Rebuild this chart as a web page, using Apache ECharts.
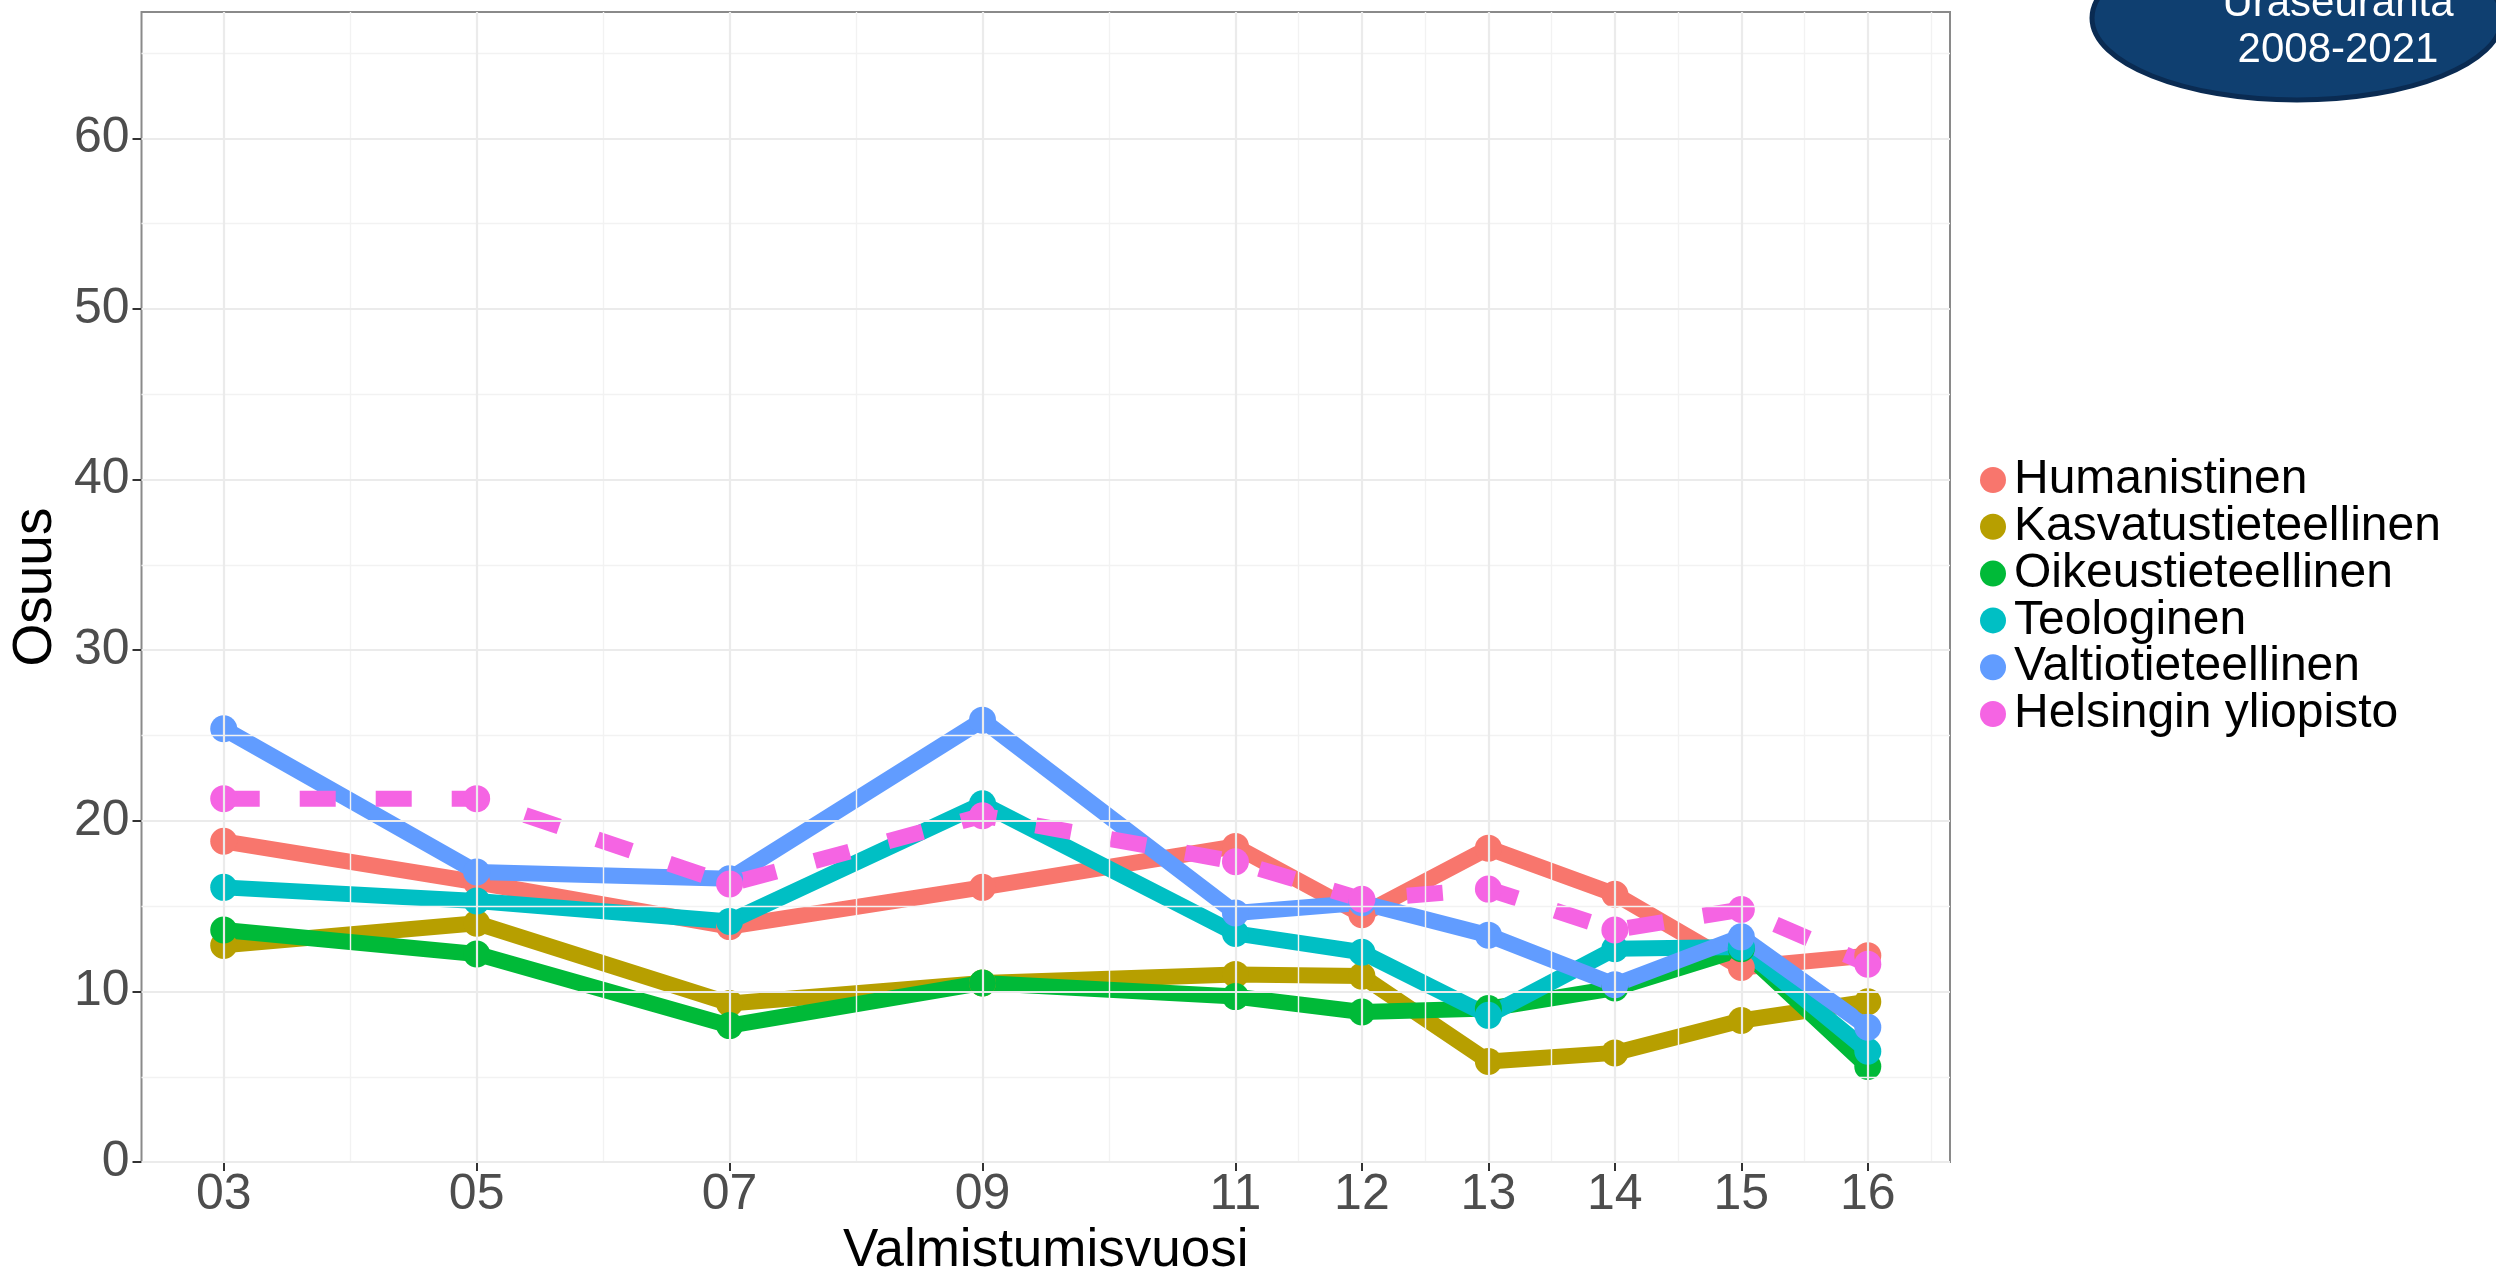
<!DOCTYPE html>
<html>
<head>
<meta charset="utf-8">
<script src="https://cdn.jsdelivr.net/npm/echarts@6/dist/echarts.min.js"></script>
<style>
html,body{margin:0;padding:0;background:#ffffff;}
#c{width:2496px;height:1283px;}
</style>
</head>
<body>
<div id="c"></div>
<script>
// ---- data ----
const years = [3, 5, 7, 9, 11, 12, 13, 14, 15, 16];
const yearLabels = ['03', '05', '07', '09', '11', '12', '13', '14', '15', '16'];
const seriesNames = ['Humanistinen', 'Kasvatustieteellinen', 'Oikeustieteellinen', 'Teologinen', 'Valtiotieteellinen', 'Helsingin yliopisto'];
const humanistinen = [18.8, 16.4, 13.8, 16.1, 18.5, 14.5, 18.4, 15.7, 11.4, 12.1];
const kasvatustieteellinen = [12.7, 14.0, 9.3, 10.5, 11.0, 10.9, 5.9, 6.4, 8.3, 9.4];
const oikeustieteellinen = [13.6, 12.2, 8.0, 10.5, 9.7, 8.8, 9.0, 10.2, 12.5, 5.6];
const teologinen = [16.1, 15.3, 14.1, 21.0, 13.4, 12.3, 8.6, 12.5, 12.6, 6.5];
const valtiotieteellinen = [25.4, 17.0, 16.6, 25.9, 14.6, 15.2, 13.3, 10.4, 13.2, 7.9];
const helsinginYliopisto = [21.3, 21.3, 16.3, 20.3, 17.6, 15.4, 16.0, 13.6, 14.8, 11.6];
const yTicks = [0, 10, 20, 30, 40, 50, 60];
const yMinor = [5, 15, 25, 35, 45, 55, 65];
const xMinor = [4, 6, 8, 10, 11.5, 12.5, 13.5, 14.5, 15.5, 16.5];
const badgeLines = ['Uraseuranta', '2008-2021'];

// ---- styles ----
const FONT = '"Liberation Sans", Arial, sans-serif';
const colors = ['#F8766D', '#B79F00', '#00BA38', '#00BFC4', '#619CFF', '#F564E3'];
const allValues = [humanistinen, kasvatustieteellinen, oikeustieteellinen, teologinen, valtiotieteellinen, helsinginYliopisto];

const gridData = [];
xMinor.forEach(v => gridData.push({xAxis: v, lineStyle: {color: '#F2F2F2', width: 1.4, type: 'solid'}}));
yMinor.forEach(v => gridData.push({yAxis: v, lineStyle: {color: '#F2F2F2', width: 1.4, type: 'solid'}}));
years.forEach(v => gridData.push({xAxis: v, lineStyle: {color: '#EBEBEB', width: 2.2, type: 'solid'}}));
yTicks.forEach(v => gridData.push({yAxis: v, lineStyle: {color: '#EBEBEB', width: 2.2, type: 'solid'}}));

const series = [{
  type: 'line', name: '_grid', data: [], silent: true, z: 1, animation: false,
  markLine: {silent: true, symbol: ['none', 'none'], label: {show: false}, animation: false,
    emphasis: {disabled: true}, data: gridData}
}];
seriesNames.forEach((name, i) => {
  const dashed = i === 5;
  series.push({
    name: name, type: 'line', z: 3, animation: false,
    data: years.map((x, j) => [x, allValues[i][j]]),
    symbol: 'circle', symbolSize: 27, showSymbol: true,
    itemStyle: {color: colors[i], borderWidth: 0},
    lineStyle: {color: colors[i], width: 16, type: dashed ? [36, 40] : 'solid', cap: 'butt'},
    emphasis: {disabled: true}
  });
});

const chart = echarts.init(document.getElementById('c'), null, {renderer: 'canvas'});
chart.setOption({
  animation: false,
  backgroundColor: '#ffffff',
  textStyle: {fontFamily: FONT},
  grid: {left: 135, right: 546, top: 12, bottom: 118, show: true, borderColor: '#8a8a8a', borderWidth: 2, backgroundColor: 'transparent'},
  xAxis: {
    type: 'value', min: 2.35, max: 16.65,
    axisLine: {show: false},
    splitLine: {show: false},
    axisTick: {show: true, customValues: years, length: 9, lineStyle: {color: '#333333', width: 2}},
    axisLabel: {customValues: years, margin: 8, fontSize: 50, color: '#4D4D4D', fontFamily: FONT,
      formatter: v => { const k = years.indexOf(v); return k >= 0 ? yearLabels[k] : ''; }},
    name: 'Valmistumisvuosi', nameLocation: 'middle', nameGap: 60,
    nameTextStyle: {fontSize: 53, color: '#000000', fontFamily: FONT}
  },
  yAxis: {
    type: 'value', min: 0, max: 67.4,
    axisLine: {show: false},
    splitLine: {show: false},
    axisTick: {show: true, customValues: yTicks, length: 9, lineStyle: {color: '#333333', width: 2}},
    axisLabel: {customValues: yTicks, margin: 12, fontSize: 50, color: '#4D4D4D', fontFamily: FONT},
    name: 'Osuus', nameLocation: 'middle', nameGap: 54,
    nameTextStyle: {fontSize: 55, color: '#000000', fontFamily: FONT}
  },
  legend: {
    orient: 'vertical', left: 1975, top: 451, itemWidth: 26, itemHeight: 26, itemGap: -1.2,
    icon: 'circle', data: seriesNames, selectedMode: false,
    itemStyle: {borderWidth: 0},
    textStyle: {fontSize: 48, color: '#000000', fontFamily: FONT, padding: [0, 0, 0, 3]}
  },
  graphic: [
    {type: 'ellipse', shape: {cx: 2297, cy: 18, rx: 205, ry: 82}, style: {fill: '#0F3F70', stroke: '#0A2B52', lineWidth: 5}, z: 10},
    {type: 'text', x: 2338, y: 4, style: {text: badgeLines[0], fill: '#ffffff', font: '42px ' + FONT, textAlign: 'center', textVerticalAlign: 'middle'}, z: 11},
    {type: 'text', x: 2338, y: 50, style: {text: badgeLines[1], fill: '#ffffff', font: '42px ' + FONT, textAlign: 'center', textVerticalAlign: 'middle'}, z: 11}
  ],
  series: series
});
</script>
</body>
</html>
